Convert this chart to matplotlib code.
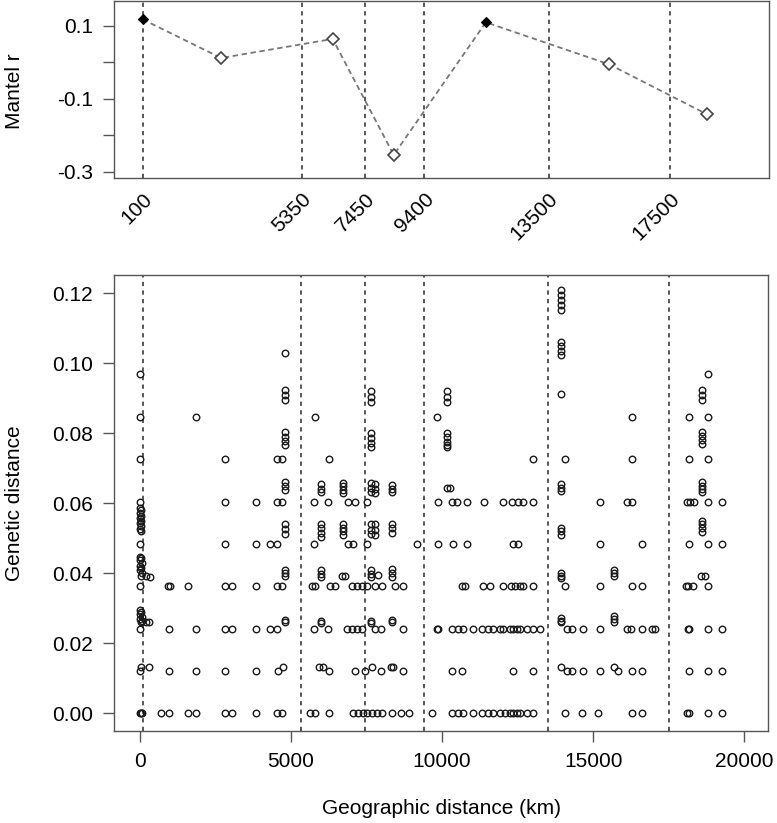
import matplotlib
matplotlib.use('Agg')
import matplotlib.pyplot as plt
import numpy as np

plt.rcParams['font.family'] = ['Liberation Sans', 'DejaVu Sans']
plt.rcParams['axes.unicode_minus'] = False

# ---------------- Top panel: Mantel correlogram ----------------
mantel_x = [100, 2694, 6374, 8390, 11431, 15498, 18737]
mantel_r = [0.1175, 0.0115, 0.0636, -0.254, 0.1093, -0.0058, -0.143]
mantel_sig = [True, False, False, False, True, False, False]
break_km = [100, 5350, 7450, 9400, 13500, 17500]
top_yticks = [0.1, 0.0, -0.1, -0.2, -0.3]
top_yticklabels = ['0.1', '', '-0.1', '', '-0.3']

# ---------------- Bottom panel: genetic vs geographic distance ----------------
# points on the discrete distance levels (x positions in km for each level)
row_000 = [0, 40, 90, 700, 975, 1610, 1857, 2830, 3050, 3840, 4560, 4700, 5640, 5800,
           6264, 7069, 7234, 7400, 7509, 7700, 7840, 8005, 8336, 8640, 8900, 9659,
           10320, 10540, 10705, 11037, 11312, 11532, 11697, 11918, 12083, 12248, 12358,
           12469, 12579, 12800, 13020, 14067, 14618, 15169, 16270, 16600, 18100, 18150,
           18805, 19246]
row_012 = [0, 975, 1857, 2830, 3840, 4590, 6264, 7124, 7455, 7983, 8722, 10320, 10650,
           12358, 13020, 14122, 14287, 14673, 15224, 15829, 16270, 16600, 18177, 18805,
           19246]
row_013 = [60, 300, 4755, 5930, 6050, 7675, 8300, 8370, 13934, 15697]
row_024 = [0, 975, 1857, 2830, 3050, 3840, 4330, 4550, 5779, 6242, 6848, 7014, 7179,
           7344, 7785, 7983, 8722, 9830, 9880, 10320, 10540, 10705, 11037, 11312, 11532,
           11697, 11918, 12028, 12248, 12358, 12469, 12579, 12800, 13020, 13240, 14122,
           14287, 14673, 15224, 16105, 16248, 16600, 16931, 17041, 18120, 18170, 18805,
           19246]
row_036 = [0, 950, 1000, 1610, 2830, 3050, 3840, 4560, 4700, 5691, 5801, 6297, 6463,
           7014, 7179, 7344, 7509, 7785, 8005, 8446, 8722, 10650, 10760, 11367, 11587,
           12028, 12282, 12414, 12579, 12690, 13020, 14067, 15224, 16270, 16600, 18060,
           18120, 18310, 18805]
row_048 = [0, 2830, 3840, 4320, 4560, 5779, 6903, 7069, 7509, 9162, 9857, 10375, 10816,
           12358, 12524, 15224, 16600, 18177, 18805, 19246]
row_060 = [0, 2830, 3840, 4560, 4700, 5779, 6242, 6903, 7124, 7509, 9857, 10320, 10485,
           10816, 11400, 12028, 12326, 12502, 12667, 13020, 15224, 16105, 16292, 18088,
           18198, 18342, 18805, 19246]
row_072 = [0, 2830, 4560, 4700, 6264, 13020, 14067, 16292, 18177, 18805]
row_084 = [0, 1857, 5790, 9840, 16292, 18177, 18805]
row_097 = [0, 18805]
level_rows = [row_000, row_012, row_013, row_024, row_036, row_048, row_060,
              row_072, row_084, row_097]
level_values = [0.0, 0.0121, 0.0132, 0.0242, 0.0363, 0.0484, 0.0605, 0.0726,
                0.0847, 0.0968]

# dense cluster near 0 km
near0_x = [0, 60, 0, 80, 20, 90, 40, 200, 330,
           0, 60, 20, 80, 0, 60, 30, 90, 50, 200, 340,
           30, 60, 30, 60, 30, 60, 30, 60, 30, 60]
near0_y = [0.0295, 0.0290, 0.0283, 0.0276, 0.0270, 0.0265, 0.0260, 0.0262, 0.0260,
           0.0447, 0.0445, 0.0438, 0.0430, 0.0422, 0.0415, 0.0408, 0.0400, 0.0393,
           0.0392, 0.0390,
           0.0586, 0.0580, 0.0572, 0.0565, 0.0557, 0.0550, 0.0543, 0.0535, 0.0527,
           0.0520]

# vertical stacks of points at one geographic distance
stack_x = [4810, 5990, 6738, 7650, 7800, 8336, 10180, 13950, 15697, 18610]
stack_y = [
    [0.1029, 0.0925, 0.0910, 0.0895, 0.0805, 0.0790, 0.0778, 0.0767, 0.0662, 0.0650,
     0.0638, 0.0540, 0.0527, 0.0513, 0.0410, 0.0400, 0.0392, 0.0268, 0.0260],
    [0.0655, 0.0642, 0.0632, 0.0540, 0.0528, 0.0515, 0.0505, 0.0410, 0.0398, 0.0388,
     0.0265, 0.0258],
    [0.0658, 0.0648, 0.0638, 0.0630, 0.0540, 0.0530, 0.0520, 0.0510],
    [0.0920, 0.0905, 0.0890, 0.0800, 0.0787, 0.0773, 0.0760, 0.0658, 0.0645, 0.0632,
     0.0540, 0.0525, 0.0512, 0.0410, 0.0398, 0.0388, 0.0265, 0.0258],
    [0.0655, 0.0640, 0.0630, 0.0540, 0.0525, 0.0510],
    [0.0652, 0.0642, 0.0632, 0.0540, 0.0528, 0.0515, 0.0412, 0.0400, 0.0390, 0.0268,
     0.0260],
    [0.0920, 0.0905, 0.0890, 0.0800, 0.0788, 0.0776, 0.0766, 0.0760],
    [0.1209, 0.1195, 0.1180, 0.1166, 0.1152, 0.1062, 0.1049, 0.1036, 0.1024, 0.0912,
     0.0655, 0.0645, 0.0635, 0.0530, 0.0520, 0.0510, 0.0402, 0.0393, 0.0387, 0.0272,
     0.0265, 0.0260],
    [0.0410, 0.0400, 0.0392, 0.0278, 0.0270, 0.0262],
    [0.0925, 0.0910, 0.0895, 0.0805, 0.0792, 0.0780, 0.0770, 0.0660, 0.0650, 0.0640,
     0.0632, 0.0550, 0.0540, 0.0528, 0.0518],
]
extra_x = [6700, 6800, 10150, 10260, 18560, 18680, 7895]
extra_y = [0.0392, 0.0392, 0.0645, 0.0645, 0.0393, 0.0393, 0.0395]

bottom_xticks = [0, 5000, 10000, 15000, 20000]
bottom_yticks = [0.00, 0.02, 0.04, 0.06, 0.08, 0.10, 0.12]

# ---------------- assemble point lists ----------------
geo_km, gen_dist = [], []
for xs, yv in zip(level_rows, level_values):
    geo_km += xs
    gen_dist += [yv] * len(xs)
geo_km += near0_x
gen_dist += near0_y
for xs, ys in zip(stack_x, stack_y):
    geo_km += [xs] * len(ys)
    gen_dist += ys
geo_km += extra_x
gen_dist += extra_y

# ---------------- figure ----------------
W, H = 777, 823
fig = plt.figure(figsize=(W / 100, H / 100), dpi=100)


def px_axes(l, t, r, b):
    return fig.add_axes([l / W, 1 - b / H, (r - l) / W, (b - t) / H])


ax1 = px_axes(114, 0.7, 769, 178)
ax2 = px_axes(114, 274.7, 768, 730.7)

spine_col = '#555555'
dash_col = '#2a2a2a'
FS = 15

for ax in (ax1, ax2):
    for s in ax.spines.values():
        s.set_color(spine_col)
        s.set_linewidth(1.0)
    ax.set_xlim(-843, 20777)
    for xb in break_km:
        ax.axvline(xb, color=dash_col, lw=1.1, ls=(0, (2.8, 2.8)), zorder=1)

# top panel
ax1.set_ylim(-0.3173, 0.1685)
ax1.plot(mantel_x, mantel_r, color='#777777', lw=1.3, ls=(0, (3.0, 2.0)), zorder=2)
ox = [x for x, s in zip(mantel_x, mantel_sig) if not s]
oy = [y for y, s in zip(mantel_r, mantel_sig) if not s]
fx = [x for x, s in zip(mantel_x, mantel_sig) if s]
fy = [y for y, s in zip(mantel_r, mantel_sig) if s]
ax1.plot(ox, oy, 'D', ms=6.6, mfc='white', mec='#444444', mew=1.2, ls='none', zorder=3)
ax1.plot(fx, fy, 'D', ms=5.6, mfc='black', mec='black', mew=0.8, ls='none', zorder=3)
ax1.set_yticks(top_yticks)
ax1.set_yticklabels(top_yticklabels)
ax1.tick_params(axis='y', direction='out', length=8, width=1, color=spine_col,
                labelsize=FS, pad=7)
ax1.set_xticks(break_km)
ax1.set_xticklabels([str(b) for b in break_km], rotation=45, ha='right', va='top',
                    rotation_mode='anchor')
ax1.tick_params(axis='x', length=0, labelsize=FS, pad=8)
for lab in ax1.get_xticklabels():
    lab.set_x(lab.get_position()[0])

# bottom panel
ax2.set_ylim(-0.00497, 0.12531)
ax2.plot(geo_km, gen_dist, 'o', ms=4.7, mfc='none', mec='#1a1a1a', mew=1.0,
         ls='none', zorder=3)
ax2.set_xticks(bottom_xticks)
ax2.set_xticklabels([str(v) for v in bottom_xticks])
ax2.set_yticks(bottom_yticks)
ax2.set_yticklabels(['%.2f' % v for v in bottom_yticks])
ax2.tick_params(direction='out', length=8, width=1, color=spine_col, labelsize=FS, pad=7)

fig.text(15 / W, 1 - 91 / H, 'Mantel r', rotation=90, ha='center', va='center',
         fontsize=FS)
fig.text(15 / W, 1 - 503 / H, 'Genetic distance', rotation=90, ha='center',
         va='center', fontsize=FS)
fig.text(441 / W, 1 - 808 / H, 'Geographic distance (km)', ha='center', va='center',
         fontsize=FS)

fig.savefig('out.png', dpi=100)
